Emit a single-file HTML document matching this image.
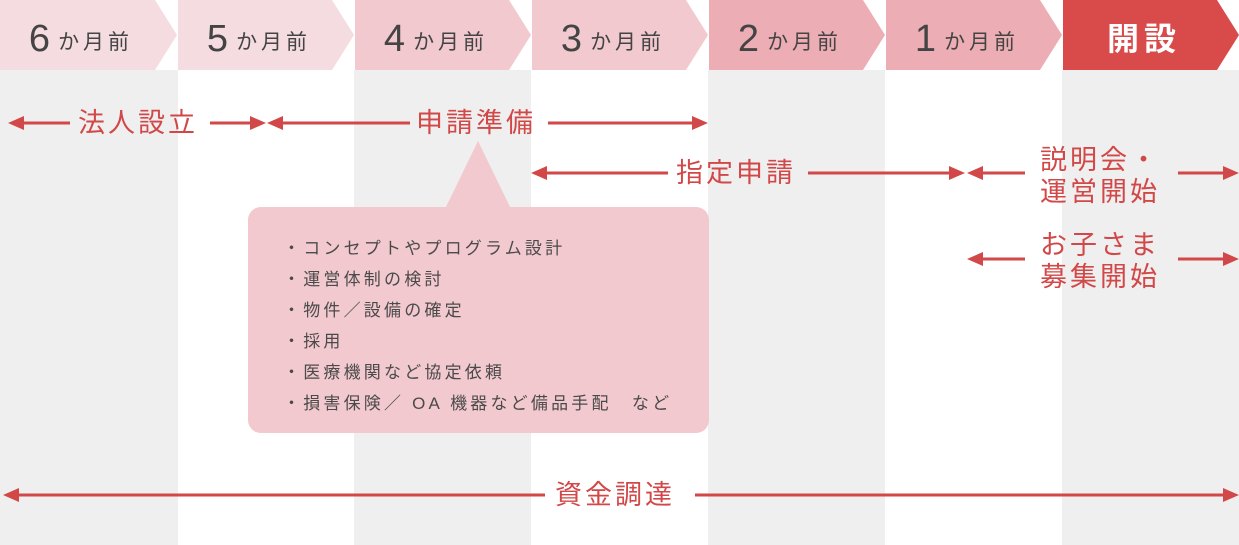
<!DOCTYPE html>
<html><head><meta charset="utf-8">
<style>
html,body{margin:0;padding:0}
body{width:1239px;height:545px;position:relative;overflow:hidden;background:#fff;font-family:"Liberation Sans","Noto Sans CJK JP",sans-serif}
.lab{position:absolute;color:#d24848;font-size:27px;line-height:30px;white-space:nowrap;letter-spacing:3px}
.hd{position:absolute;top:4px;height:70px;line-height:70px;color:#444;text-align:center;white-space:nowrap}
.hd b{font-weight:normal;font-size:38px;vertical-align:-2px}
.hd span{font-size:21px;margin-left:8px;letter-spacing:4px}
.list{position:absolute;left:283px;top:233px;color:#4a4a4a;font-size:17px;line-height:31px;letter-spacing:3.2px}
</style></head><body>
<svg width="1239" height="545" style="position:absolute;left:0;top:0">
<rect x="0" y="70" width="178" height="475" fill="#efefef"/>
<rect x="354" y="70" width="177" height="475" fill="#efefef"/>
<rect x="708" y="70" width="177" height="475" fill="#efefef"/>
<rect x="1062" y="70" width="177" height="475" fill="#efefef"/>
<polygon points="0,0 155,0 177,35 155,70 0,70" fill="#f4dce0"/>
<polygon points="178,0 332,0 354,35 332,70 178,70" fill="#f4dce0"/>
<polygon points="355,0 509,0 531,35 509,70 355,70" fill="#f2c9ce"/>
<polygon points="532,0 686,0 708,35 686,70 532,70" fill="#f2c9ce"/>
<polygon points="709,0 863,0 885,35 863,70 709,70" fill="#ecadb4"/>
<polygon points="886,0 1040,0 1062,35 1040,70 886,70" fill="#ecadb4"/>
<polygon points="1063,0 1217,0 1239,35 1217,70 1063,70" fill="#d94a4a"/>
<g fill="#d24848" stroke="#d24848" stroke-width="3">
<line x1="20" y1="123" x2="70" y2="123"/><polygon points="8,123 24,116 24,130" stroke="none"/>
<line x1="210" y1="123" x2="255" y2="123"/><polygon points="266,123 250,116 250,130" stroke="none"/>
<line x1="278" y1="123" x2="410" y2="123"/><polygon points="267,123 283,116 283,130" stroke="none"/>
<line x1="548" y1="123" x2="697" y2="123"/><polygon points="708,123 692,116 692,130" stroke="none"/>
<line x1="544" y1="173" x2="668" y2="173"/><polygon points="531,173 547,166 547,180" stroke="none"/>
<line x1="808" y1="173" x2="954" y2="173"/><polygon points="965,173 949,166 949,180" stroke="none"/>
<line x1="980" y1="173" x2="1025" y2="173"/><polygon points="967,173 983,166 983,180" stroke="none"/>
<line x1="1178" y1="173" x2="1228" y2="173"/><polygon points="1239,173 1223,166 1223,180" stroke="none"/>
<line x1="980" y1="259" x2="1025" y2="259"/><polygon points="967,259 983,252 983,266" stroke="none"/>
<line x1="1178" y1="259" x2="1228" y2="259"/><polygon points="1239,259 1223,252 1223,266" stroke="none"/>
<line x1="16" y1="495" x2="545" y2="495"/><polygon points="3,495 19,488 19,502" stroke="none"/>
<line x1="695" y1="495" x2="1228" y2="495"/><polygon points="1239,495 1223,488 1223,502" stroke="none"/>
</g>
<polygon points="478,141 445,209 511,209" fill="#f2c9ce"/>
<rect x="248" y="207" width="461" height="226" rx="13" fill="#f2c9ce"/>
</svg>
<div class="hd" style="left:0;width:162px"><b>6</b><span>か月前</span></div>
<div class="hd" style="left:178px;width:162px"><b>5</b><span>か月前</span></div>
<div class="hd" style="left:355px;width:162px"><b>4</b><span>か月前</span></div>
<div class="hd" style="left:532px;width:162px"><b>3</b><span>か月前</span></div>
<div class="hd" style="left:709px;width:162px"><b>2</b><span>か月前</span></div>
<div class="hd" style="left:886px;width:162px"><b>1</b><span>か月前</span></div>
<div class="hd" style="left:1063px;width:162px;color:#fff;font-size:32px;font-weight:bold;letter-spacing:5px">開設</div>
<div class="lab" style="left:78px;top:108px">法人設立</div>
<div class="lab" style="left:416px;top:108px">申請準備</div>
<div class="lab" style="left:676px;top:158px">指定申請</div>
<div class="lab" style="left:1040px;top:144px;line-height:32px">説明会・<br>運営開始</div>
<div class="lab" style="left:1040px;top:229px;line-height:32px">お子さま<br>募集開始</div>
<div class="lab" style="left:555px;top:480px">資金調達</div>
<div class="list">・コンセプトやプログラム設計<br>・運営体制の検討<br>・物件／設備の確定<br>・採用<br>・医療機関など協定依頼<br>・損害保険／ OA 機器など備品手配　など</div>
</body></html>
